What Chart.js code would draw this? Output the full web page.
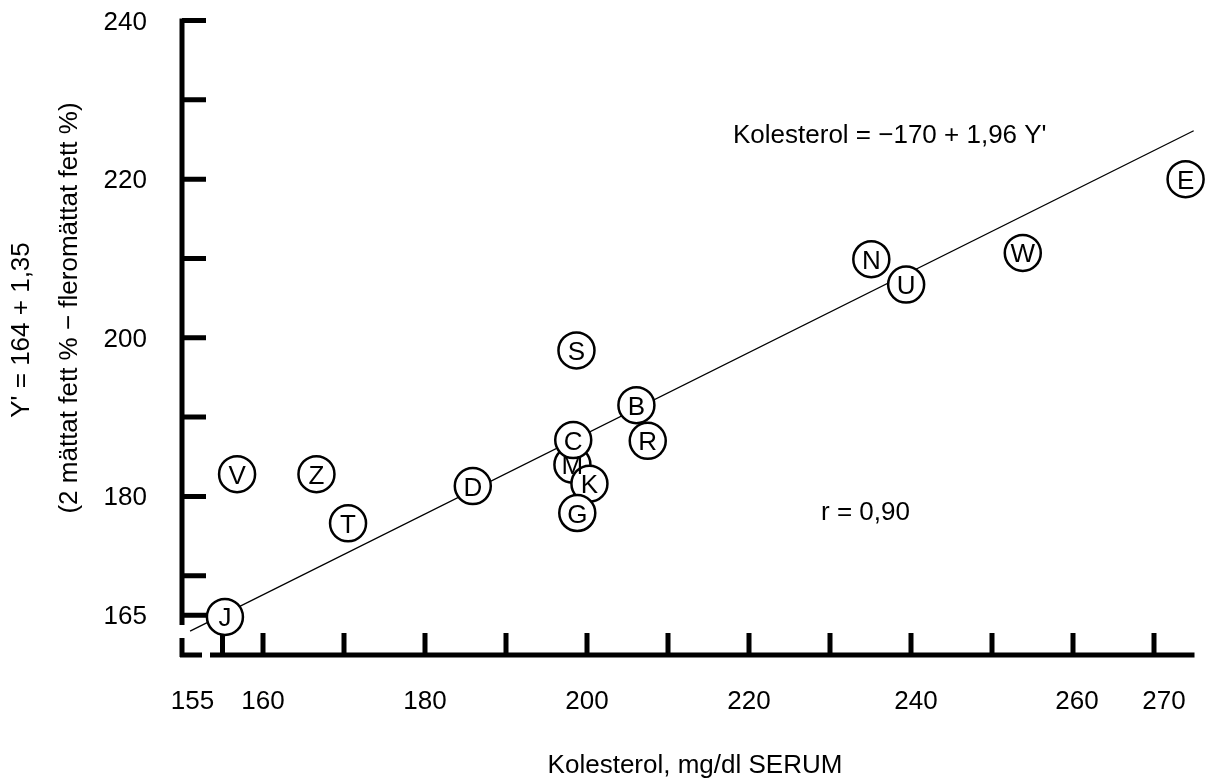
<!DOCTYPE html>
<html>
<head>
<meta charset="utf-8">
<script src="https://cdn.jsdelivr.net/npm/chart.js@4/dist/chart.umd.min.js"></script>
<style>
  body { margin: 0; background: #fff; }
  canvas { display: block; }
</style>
</head>
<body>
<canvas id="chart" width="1215" height="779"></canvas>
<script>
// ── Data ─────────────────────────────────────────────────────────────────────

const pointLetters = ['J', 'V', 'Z', 'T', 'D', 'S', 'M', 'C', 'K', 'G', 'B', 'R', 'N', 'U', 'W', 'E'];
const cholesterol  = [155.3, 156.8, 166.6, 170.5, 185.9, 198.7, 198.2, 198.3, 200.3, 198.8, 206.1, 207.5, 235.1, 239.4, 253.8, 273.9];
const yPrime       = [164.8, 182.8, 182.8, 176.6, 181.3, 198.4, 184.0, 187.1, 181.6, 177.9, 191.5, 187.0, 209.9, 206.7, 210.7, 220.0];

const fitX = [151.0, 274.9];
const fitY = [163.0, 226.1];

const xTicks      = [155, 160, 170, 180, 190, 200, 210, 220, 230, 240, 250, 260, 270];
const xTickLabels = ['155', '160', '', '180', '', '200', '', '220', '', '240', '', '260', '270'];
const yTicks      = [165, 170, 180, 190, 200, 210, 220, 230, 240];
const yTickLabels = ['165', '', '180', '', '200', '', '220', '', '240'];

const equationText = 'Kolesterol = \u2212170 + 1,96 Y\'';
const rText        = 'r = 0,90';
const xTitle       = 'Kolesterol, mg/dl SERUM';
const yTitle       = ['Y\' = 164 + 1,35', '(2 m\u00e4ttat fett % \u2212 flerom\u00e4ttat fett %)'];

// ── Drawing helpers ──────────────────────────────────────────────────────────

const FONT = '"Liberation Sans", Arial, Helvetica, sans-serif';
const AXIS_W = 5;
const TICK_LEN = 24;
// small nudges for labels that sit off their tick in the original
const xLabelNudge = { 155: -30, 270: 10, 260: 4, 240: 5 };

const axesPlugin = {
  id: 'axes',
  beforeDatasetsDraw(chart) {
    const { ctx, chartArea: a, scales: { x, y } } = chart;
    ctx.save();
    ctx.strokeStyle = '#000';
    ctx.lineWidth = AXIS_W;
    ctx.lineCap = 'butt';

    // y axis, broken near the bottom
    ctx.beginPath();
    ctx.moveTo(a.left, a.top - 2);
    ctx.lineTo(a.left, a.bottom - 30);
    ctx.moveTo(a.left, a.bottom - 17);
    ctx.lineTo(a.left, a.bottom + 2);
    // x axis, broken near the left
    ctx.moveTo(a.left - 2, a.bottom);
    ctx.lineTo(a.left + 20, a.bottom);
    ctx.moveTo(a.left + 28, a.bottom);
    ctx.lineTo(a.right, a.bottom);
    ctx.stroke();

    // inward tick marks
    ctx.beginPath();
    yTicks.forEach(v => {
      const py = y.getPixelForValue(v);
      ctx.moveTo(a.left, py);
      ctx.lineTo(a.left + TICK_LEN, py);
    });
    xTicks.forEach(v => {
      const px = x.getPixelForValue(v);
      ctx.moveTo(px, a.bottom);
      ctx.lineTo(px, a.bottom - 22);
    });
    ctx.stroke();
    ctx.restore();
  },
  afterDatasetsDraw(chart) {
    const { ctx, chartArea: a, scales: { x, y } } = chart;
    ctx.save();
    ctx.fillStyle = '#000';

    // letters inside the circles
    const meta = chart.getDatasetMeta(0);
    ctx.font = '26px ' + FONT;
    ctx.textAlign = 'center';
    ctx.textBaseline = 'alphabetic';
    meta.data.forEach((pt, i) => {
      ctx.fillText(pointLetters[i], pt.x, pt.y + 9.5);
    });

    // tick labels
    ctx.font = '26px ' + FONT;
    ctx.textAlign = 'right';
    yTicks.forEach((v, i) => {
      if (!yTickLabels[i]) return;
      ctx.fillText(yTickLabels[i], a.left - 35, y.getPixelForValue(v) + 9);
    });
    ctx.textAlign = 'center';
    xTicks.forEach((v, i) => {
      if (!xTickLabels[i]) return;
      ctx.fillText(xTickLabels[i], x.getPixelForValue(v) + (xLabelNudge[v] || 0), 709);
    });

    // annotations
    ctx.textAlign = 'left';
    ctx.fillText(equationText, 733, 143);
    ctx.fillText(rText, 821, 520);

    // axis titles
    ctx.textAlign = 'center';
    ctx.fillText(xTitle, 695, 773);
    ctx.save();
    ctx.rotate(-Math.PI / 2);
    ctx.textBaseline = 'middle';
    ctx.fillText(yTitle[0], -330, 22);
    ctx.fillText(yTitle[1], -308, 70);
    ctx.restore();

    ctx.restore();
  },
};

// ── Chart ────────────────────────────────────────────────────────────────────

new Chart(document.getElementById('chart'), {
  type: 'scatter',
  data: {
    datasets: [
      {
        label: 'points',
        data: cholesterol.map((c, i) => ({ x: c, y: yPrime[i] })),
        pointStyle: 'circle',
        pointRadius: 18,
        pointHoverRadius: 18,
        backgroundColor: '#fff',
        borderColor: '#000',
        borderWidth: 2.5,
        clip: false,
        order: 0,
      },
      {
        label: 'fit',
        type: 'line',
        data: fitX.map((v, i) => ({ x: v, y: fitY[i] })),
        borderColor: '#000',
        borderWidth: 1.3,
        pointRadius: 0,
        fill: false,
        clip: false,
        order: 1,
      },
    ],
  },
  options: {
    responsive: false,
    animation: false,
    events: [],
    layout: { padding: { left: 182, right: 18, top: 18, bottom: 124 } },
    plugins: {
      legend: { display: false },
      tooltip: { enabled: false },
    },
    scales: {
      x: { type: 'linear', min: 150, max: 275, display: false },
      y: { type: 'linear', min: 160, max: 240, display: false },
    },
  },
  plugins: [axesPlugin],
});
</script>
</body>
</html>
